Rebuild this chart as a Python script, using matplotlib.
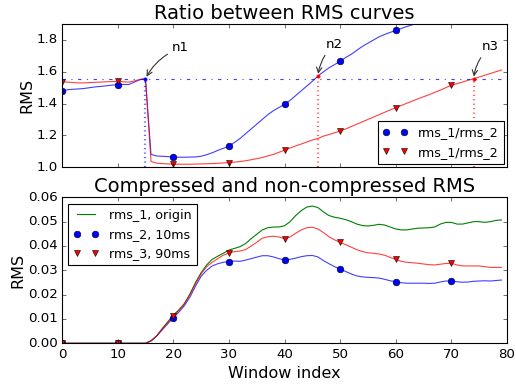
import numpy as np
import matplotlib
matplotlib.use('Agg')
import matplotlib.pyplot as plt

plt.style.use('classic')

# window index
win = np.arange(80)

# rms curves
rms_1 = [0.0, 0.0, 0.0, 0.0, 0.0, 0.0, 0.0, 0.0, 0.0, 0.0,
         0.0, 0.0, 0.0, 0.0, 0.0, 0.0, 0.001, 0.003, 0.006, 0.0088,
         0.0116, 0.0137, 0.0163, 0.0203, 0.025, 0.029, 0.0322, 0.0345, 0.0358, 0.037,
         0.0383, 0.039, 0.0397, 0.041, 0.043, 0.0448, 0.0466, 0.0475, 0.0478, 0.0478,
         0.0483, 0.050, 0.0525, 0.0545, 0.056, 0.0564, 0.0558, 0.054, 0.0525, 0.0518,
         0.0514, 0.0508, 0.050, 0.049, 0.0484, 0.0482, 0.0485, 0.0489, 0.0486, 0.0478,
         0.047, 0.0466, 0.0466, 0.047, 0.0473, 0.0474, 0.0475, 0.0478, 0.049, 0.0497,
         0.0497, 0.049, 0.049, 0.0495, 0.050, 0.050, 0.0497, 0.050, 0.0505, 0.0507]
rms_2 = [0.0, 0.0, 0.0, 0.0, 0.0, 0.0, 0.0, 0.0, 0.0, 0.0,
         0.0, 0.0, 0.0, 0.0, 0.0, 0.0, 0.001, 0.003, 0.0055, 0.008,
         0.0105, 0.0128, 0.0155, 0.019, 0.0235, 0.0275, 0.030, 0.0318, 0.0327, 0.0333,
         0.0336, 0.0338, 0.0337, 0.0342, 0.0348, 0.0354, 0.036, 0.036, 0.0355, 0.0348,
         0.0342, 0.0345, 0.035, 0.0356, 0.036, 0.0361, 0.0355, 0.034, 0.0327, 0.0315,
         0.0305, 0.0295, 0.0285, 0.0277, 0.0273, 0.0271, 0.027, 0.0268, 0.0263, 0.0257,
         0.0253, 0.0249, 0.0247, 0.0247, 0.0247, 0.0247, 0.0246, 0.0247, 0.0252, 0.0256,
         0.0256, 0.0253, 0.0251, 0.0252, 0.0255, 0.0256, 0.0257, 0.0256, 0.0258, 0.026]
rms_3 = [0.0, 0.0, 0.0, 0.0, 0.0, 0.0, 0.0, 0.0, 0.0, 0.0,
         0.0, 0.0, 0.0, 0.0, 0.0, 0.0, 0.001, 0.003, 0.0058, 0.0085,
         0.0112, 0.0135, 0.0163, 0.020, 0.0245, 0.0285, 0.0315, 0.0333, 0.0348, 0.0362,
         0.0371, 0.0377, 0.0379, 0.0385, 0.040, 0.0415, 0.0432, 0.0438, 0.044, 0.0437,
         0.043, 0.0437, 0.0452, 0.0466, 0.0475, 0.0477, 0.047, 0.0455, 0.0438, 0.0425,
         0.0415, 0.0405, 0.0395, 0.0385, 0.0377, 0.0372, 0.037, 0.0367, 0.0362, 0.0353,
         0.0345, 0.0337, 0.0333, 0.0331, 0.0329, 0.0326, 0.0323, 0.0322, 0.0325, 0.0328,
         0.0329, 0.0322, 0.0318, 0.0318, 0.0318, 0.0318, 0.0315, 0.0312, 0.0312, 0.0312]

# ratios rms_1/rms_2 and rms_1/rms_3
ratio_12 = [1.477, 1.487, 1.49, 1.492, 1.495, 1.50, 1.505, 1.508, 1.512, 1.516,
            1.518, 1.52, 1.52, 1.535, 1.55, 1.556, 1.08, 1.07, 1.068, 1.066,
            1.062, 1.062, 1.062, 1.063, 1.064, 1.068, 1.078, 1.09, 1.105, 1.118,
            1.132, 1.155, 1.18, 1.21, 1.24, 1.27, 1.30, 1.33, 1.355, 1.375,
            1.395, 1.42, 1.45, 1.48, 1.51, 1.54, 1.573, 1.60, 1.625, 1.645,
            1.666, 1.69, 1.71, 1.735, 1.76, 1.78, 1.80, 1.82, 1.835, 1.848,
            1.86, 1.873, 1.885, 1.896, 1.905, 1.915, 1.925, 1.934, 1.943, 1.952,
            1.96, 1.968, 1.975, 1.982, 1.989, 1.995, 2.0, 2.005, 2.01, 2.015]
ratio_13 = [1.537, 1.535, 1.532, 1.53, 1.53, 1.532, 1.534, 1.535, 1.537, 1.538,
            1.54, 1.537, 1.535, 1.542, 1.552, 1.556, 1.035, 1.025, 1.022, 1.02,
            1.018, 1.018, 1.018, 1.018, 1.019, 1.02, 1.021, 1.022, 1.024, 1.026,
            1.028, 1.031, 1.035, 1.04, 1.046, 1.053, 1.06, 1.07, 1.08, 1.093,
            1.107, 1.12, 1.133, 1.145, 1.158, 1.17, 1.18, 1.195, 1.205, 1.216,
            1.227, 1.24, 1.255, 1.27, 1.285, 1.30, 1.315, 1.33, 1.345, 1.36,
            1.374, 1.388, 1.402, 1.416, 1.43, 1.443, 1.456, 1.47, 1.484, 1.50,
            1.515, 1.525, 1.535, 1.546, 1.556, 1.567, 1.578, 1.589, 1.60, 1.611]

threshold = 1.552
cross_x = [15, 46, 74]
cross_y = [1.556, 1.573, 1.556]
cross_names = ['n1', 'n2', 'n3']
text_pos = [(19.8, 1.75), (47.5, 1.773), (75.5, 1.758)]

fig = plt.figure(figsize=(516 / 80.0, 385 / 80.0), dpi=80, facecolor='w')
ax1 = fig.add_axes([0.1202, 0.566, 0.8624, 0.3714])
ax2 = fig.add_axes([0.1202, 0.1083, 0.8624, 0.3792])

# top: ratios
ax1.plot(win, ratio_12, 'b-', alpha=0.75)
ax1.plot(win, ratio_13, 'r-', alpha=0.75)
ax1.plot(win[::10], np.array(ratio_12)[::10], 'bo', label='rms_1/rms_2')
ax1.plot(win[::10], np.array(ratio_13)[::10], 'rv', label='rms_1/rms_2')
ax1.axhline(threshold, color='b', linestyle='-.', alpha=0.75)
ax1.vlines(cross_x[0], 1.0, cross_y[0], colors='b', linestyles=':', linewidth=2, alpha=0.65)
ax1.vlines(cross_x[1:], 1.0, cross_y[1:], colors='r', linestyles=':', linewidth=2, alpha=0.65)
ax1.plot(cross_x[:1], cross_y[:1], 'b.')
ax1.plot(cross_x[1:], cross_y[1:], 'r.')
for name, cx, cy, tp in zip(cross_names, cross_x, cross_y, text_pos):
    ax1.annotate(name, xy=(cx, cy), xytext=tp, ha='left', va='center', fontsize=12,
                 arrowprops=dict(arrowstyle='->', connectionstyle='arc3,rad=.2', color='0.2'))
ax1.set_xlim(0, 80)
ax1.set_ylim(1.0, 1.9)
ax1.set_xticklabels([])
ax1.tick_params(labelsize=12)
ax1.set_ylabel('RMS', fontsize=14.4, labelpad=2)
ax1.set_title('Ratio between RMS curves', fontsize=17.6)
ax1.legend(loc='lower right', fontsize=11.4, borderaxespad=0.25)

# bottom: rms curves
ax2.plot(win, rms_1, 'g-', label='rms_1, origin')
ax2.plot(win, rms_2, 'b-', alpha=0.75)
ax2.plot(win, rms_3, 'r-', alpha=0.75)
ax2.plot(win[::10], np.array(rms_2)[::10], 'bo', label='rms_2, 10ms')
ax2.plot(win[::10], np.array(rms_3)[::10], 'rv', label='rms_3, 90ms')
ax2.set_xlim(0, 80)
ax2.set_ylim(0, 0.06)
ax2.tick_params(labelsize=12)
ax2.set_xlabel('Window index', fontsize=14.4)
ax2.set_ylabel('RMS', fontsize=14.4, labelpad=2)
ax2.set_title('Compressed and non-compressed RMS', fontsize=17.6)
ax2.legend(loc='upper left', fontsize=11.4)

fig.savefig('out.png', dpi=80, facecolor='w')
